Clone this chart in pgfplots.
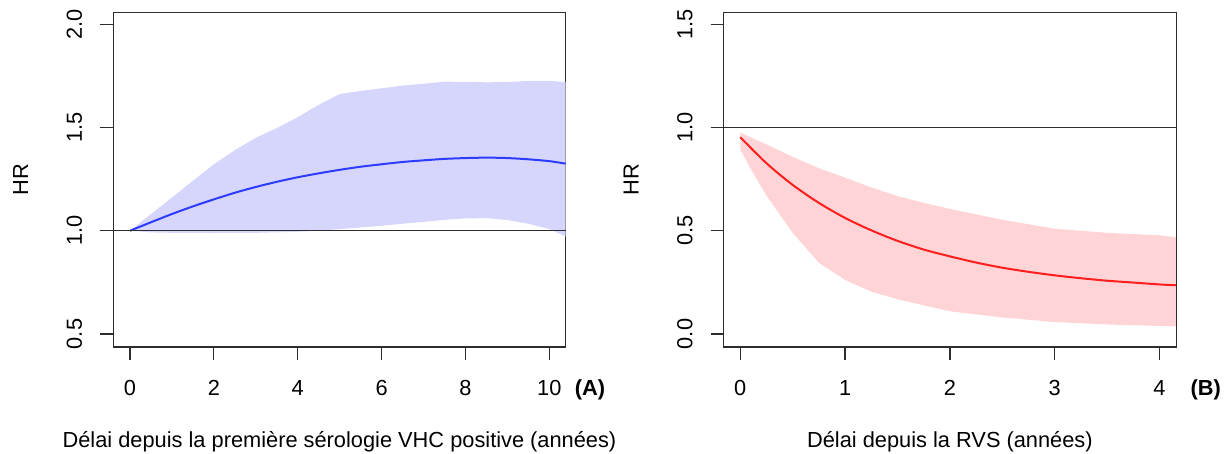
\documentclass[border=0pt]{standalone}
\usepackage{fontspec}
\setmainfont{Liberation Sans}
\usepackage{pgfplots}
\pgfplotsset{compat=1.18}
\usepgfplotslibrary{fillbetween}

\definecolor{bandblue}{RGB}{214,214,252}
\definecolor{lineblue}{RGB}{45,60,255}
\definecolor{bandred}{RGB}{255,212,214}
\definecolor{linered}{RGB}{255,30,30}
\definecolor{axgray}{RGB}{45,45,45}

\pgfplotsset{
  rstyle/.style={
    scale only axis, width=226.2pt, height=167.35pt,
    anchor=south west, clip=false,
    axis line style={axgray, line width=0.6pt},
    tick style={axgray, line width=0.6pt},
    tick align=outside, major tick length=6.5pt,
    xtick pos=left, ytick pos=left,
    font=\fontsize{10.9pt}{13pt}\selectfont,
    tick label style={font=\fontsize{10.9pt}{13pt}\selectfont},
    /pgf/number format/assume math mode=true,
    xticklabel style={anchor=base},
    xticklabel shift=17.85pt,
    yticklabel style={rotate=90, anchor=base, /pgf/number format/.cd, fixed, fixed zerofill, precision=1},
    yticklabel shift=9.15pt,
    xlabel style={at={(axis description cs:0.5,-0.2988)}, anchor=base},
    ylabel style={at={(axis description cs:-0.188,0.5)}, anchor=base},
  }
}

\begin{document}
\begin{tikzpicture}
% ---------- Panel A ----------
\begin{axis}[rstyle, at={(56.65pt,53.5pt)},
  xmin=-0.398, xmax=10.39, ymin=0.437, ymax=2.058,
  xtick={0,2,4,6,8,10}, ytick={0.5,1,1.5,2},
  xlabel={Délai depuis la première sérologie VHC positive (années)},
  ylabel={HR}]
\addplot[name path=ua, draw=none] coordinates {(0,1.0) (0.5,1.081) (1,1.161) (1.5,1.242) (2,1.322) (2.5,1.39) (3,1.45) (3.5,1.497) (4,1.55) (4.5,1.61) (5,1.662) (5.5,1.677) (6,1.69) (6.5,1.703) (7,1.712) (7.5,1.722) (8,1.721) (8.5,1.719) (9,1.72) (9.5,1.726) (10,1.726) (10.39,1.72)};
\addplot[name path=la, draw=none] coordinates {(0,1.0) (0.5,0.992) (1,0.99) (2,0.989) (3,0.99) (4,0.995) (4.5,1.0) (5,1.008) (5.5,1.016) (6,1.024) (6.5,1.034) (7,1.043) (7.5,1.053) (8,1.06) (8.5,1.061) (9,1.052) (9.5,1.034) (10,1.008) (10.39,0.972)};
\addplot[bandblue, draw=none] fill between[of=ua and la];
\addplot[lineblue, line width=1pt, smooth] coordinates {(0,1.0) (0.5,1.041) (1,1.081) (1.5,1.118) (2,1.152) (2.5,1.184) (3,1.212) (3.5,1.237) (4,1.259) (4.5,1.278) (5,1.295) (5.5,1.31) (6,1.322) (6.5,1.333) (7,1.341) (7.5,1.348) (8,1.352) (8.5,1.354) (9,1.352) (9.5,1.346) (10,1.337) (10.39,1.325)};
\addplot[axgray, line width=0.6pt] coordinates {(-0.398,1) (10.39,1)};
\node[anchor=base, font=\fontsize{10.9pt}{13pt}\selectfont\bfseries] at (axis description cs:1.0537,-0.1455) {(A)};
\end{axis}
% ---------- Panel B ----------
\begin{axis}[rstyle, at={(361.85pt,53.5pt)},
  xmin=-0.158, xmax=4.158, ymin=-0.063, ymax=1.558,
  xtick={0,1,2,3,4}, ytick={0,0.5,1,1.5},
  xlabel={Délai depuis la RVS (années)},
  ylabel={HR}]
\addplot[name path=ub, draw=none] coordinates {(0,0.975) (0.25,0.918) (0.5,0.858) (0.75,0.803) (1,0.757) (1.25,0.71) (1.5,0.668) (1.75,0.635) (2,0.606) (2.5,0.553) (3,0.51) (3.5,0.49) (4,0.478) (4.156,0.468)};
\addplot[name path=lb, draw=none] coordinates {(0,0.893) (0.1,0.80) (0.25,0.67) (0.5,0.49) (0.75,0.345) (1,0.262) (1.25,0.205) (1.5,0.168) (2,0.11) (2.5,0.08) (3,0.058) (3.5,0.046) (4,0.039) (4.156,0.037)};
\addplot[bandred, draw=none] fill between[of=ub and lb];
\addplot[linered, line width=1pt, smooth] coordinates {(0,0.953) (0.25,0.827) (0.5,0.722) (0.75,0.635) (1,0.562) (1.25,0.502) (1.5,0.451) (1.75,0.409) (2,0.376) (2.25,0.346) (2.5,0.321) (2.75,0.301) (3,0.284) (3.25,0.270) (3.5,0.258) (3.75,0.249) (4,0.240) (4.156,0.236)};
\addplot[axgray, line width=0.6pt] coordinates {(-0.158,1) (4.158,1)};
\node[anchor=base, font=\fontsize{10.9pt}{13pt}\selectfont\bfseries] at (axis description cs:1.0656,-0.1455) {(B)};
\end{axis}
\pgfresetboundingbox
\useasboundingbox (0,0) rectangle (615.5pt,227pt);
\end{tikzpicture}
\end{document}
